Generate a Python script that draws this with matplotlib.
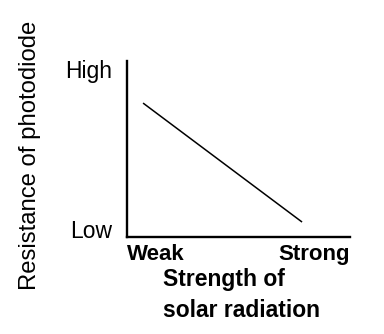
import matplotlib
matplotlib.use("Agg")
import matplotlib.pyplot as plt

plt.rcParams['font.family'] = ['Liberation Sans', 'DejaVu Sans']

# data (relative scale 0..1)
strength = [0.072, 0.785]
resistance = [0.761, 0.085]
x_ticks = [0.0, 1.0]
x_labels = ["Weak", "Strong"]
y_ticks = [0.955, 0.045]
y_labels = ["High", "Low"]

fig = plt.figure(figsize=(3.84, 3.34), dpi=100)
ax = fig.add_axes([127/384, 1-237/334, 223/384, 176/334])
ax.plot(strength, resistance, color="black", lw=1.1, solid_capstyle="butt")
ax.set_xlim(0, 1)
ax.set_ylim(0, 1)
for s in ["top", "right"]:
    ax.spines[s].set_visible(False)
for s in ["left", "bottom"]:
    ax.spines[s].set_linewidth(1.7)
ax.set_xticks(x_ticks)
ax.set_xticklabels(x_labels, fontsize=16, fontweight="bold")
ax.get_xticklabels()[0].set_ha("left")
ax.get_xticklabels()[1].set_ha("right")
ax.set_yticks(y_ticks)
ax.set_yticklabels(y_labels, fontsize=16.5)
ax.tick_params(axis="both", length=0)
ax.tick_params(axis="x", pad=5)
ax.tick_params(axis="y", pad=11)
ax.set_xlabel("Strength of\nsolar radiation", fontsize=16.5, fontweight="bold",
              ha="left", va="center", linespacing=1.45)
ax.xaxis.set_label_coords(0.161, -0.33)
ax.set_ylabel("Resistance of photodiode", fontsize=17.2, va="center")
ax.yaxis.set_label_coords(-0.435, 0.466)
fig.savefig("out.png", dpi=100)
